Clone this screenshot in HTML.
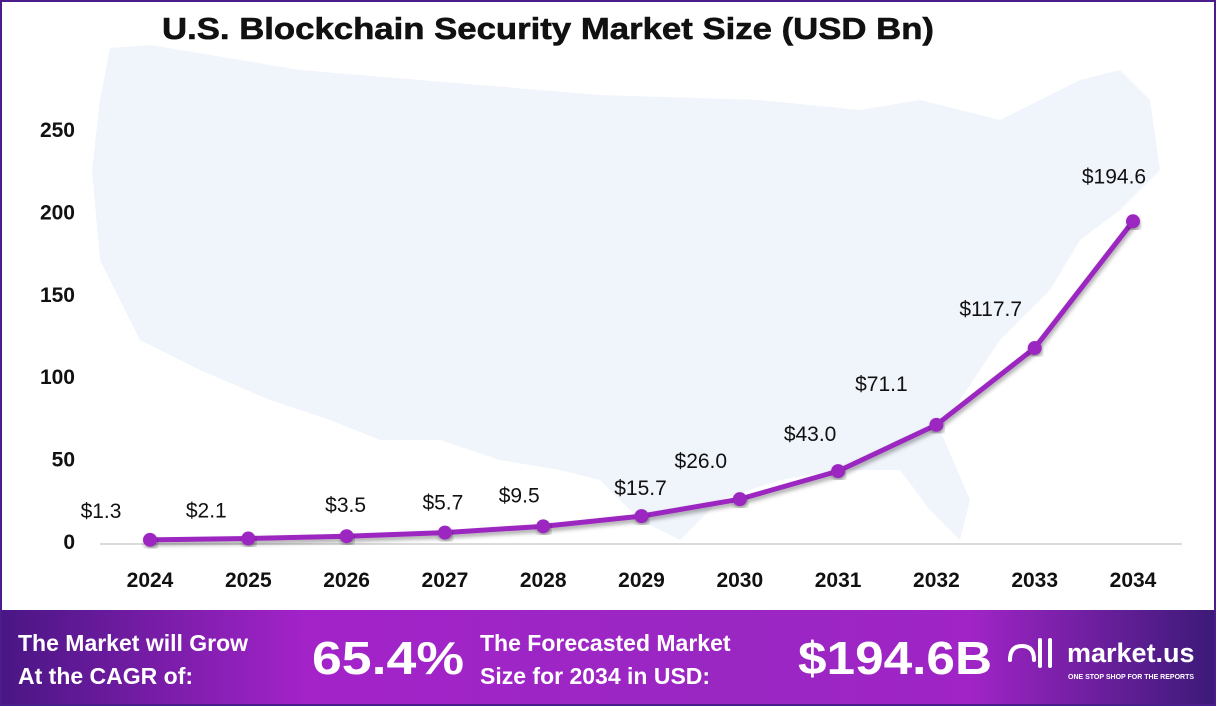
<!DOCTYPE html>
<html><head><meta charset="utf-8"><style>
html,body{margin:0;padding:0;background:#fff}
#wrap{position:relative;width:1216px;height:706px;overflow:hidden;font-family:"Liberation Sans",sans-serif}
svg text{font-family:"Liberation Sans",sans-serif}
</style></head><body>
<div id="wrap">
<svg id="chart" width="1216" height="706" viewBox="0 0 1216 706">
<defs>
<linearGradient id="bg" x1="0" x2="1" y1="0" y2="0">
<stop offset="0" stop-color="#4a1684"/><stop offset="0.25" stop-color="#a323c9"/><stop offset="0.6" stop-color="#9a27c2"/><stop offset="0.8" stop-color="#a024c6"/><stop offset="1" stop-color="#3c1a78"/>
</linearGradient>
<filter id="sh"><feDropShadow dx="1" dy="3" stdDeviation="2" flood-opacity="0.35"/></filter>
</defs>
<rect x="1" y="1" width="1214" height="704" fill="#fff" stroke="#4b1d8a" stroke-width="2"/>
<path d="M110 48 L150 45 L300 70 L600 95 L760 100 L860 110 L920 100 L1000 120 L1080 80 L1120 70 L1150 100 L1160 170 L1120 210 L1080 240 L1050 290 L1000 340 L960 400 L940 430 L970 500 L960 540 L930 510 L900 470 L840 470 L780 480 L720 500 L680 540 L640 520 L600 480 L560 470 L500 460 L440 440 L380 440 L330 420 L270 400 L200 370 L140 340 L100 260 L92 170 L100 100 Z" fill="#f0f4fb"/>
<text x="162" y="39" font-size="31" font-weight="bold" fill="#111" textLength="772" lengthAdjust="spacingAndGlyphs" stroke="#111" stroke-width="0.6">U.S. Blockchain Security Market  Size (USD Bn)</text>
<line x1="100" y1="544" x2="1182" y2="544" stroke="#cfcfcf" stroke-width="1.5"/>
<g id="yaxis"></g><g id="xaxis"></g><g id="series"></g>
<rect x="2" y="610" width="1212" height="94" fill="url(#bg)"/>
<g font-weight="bold" fill="#fff">
<text x="18" y="651" font-size="23">The Market will Grow</text>
<text x="18" y="684" font-size="23">At the CAGR of:</text>
<text x="312" y="674" font-size="46" textLength="152" lengthAdjust="spacingAndGlyphs">65.4%</text>
<text x="480" y="651" font-size="23">The Forecasted Market</text>
<text x="480" y="684" font-size="23">Size for 2034 in USD:</text>
<text x="798" y="674" font-size="46" textLength="194" lengthAdjust="spacingAndGlyphs">$194.6B</text>
<text x="1067" y="662" font-size="27">market.us</text>
<text x="1068" y="679" font-size="7">ONE STOP SHOP FOR THE REPORTS</text>
</g>
<path d="M1010 660 q0 -14 12 -14 q12 0 12 14 M1040 640 v26 M1050 640 v26" fill="none" stroke="#fff" stroke-width="4" stroke-linecap="round"/>
</svg>
</div>
<script>
const years=["2024","2025","2026","2027","2028","2029","2030","2031","2032","2033","2034"];
const values=[1.3,2.1,3.5,5.7,9.5,15.7,26.0,43.0,71.1,117.7,194.6];
const valueLabels=["$1.3","$2.1","$3.5","$5.7","$9.5","$15.7","$26.0","$43.0","$71.1","$117.7","$194.6"];
const yTicks=[0,50,100,150,200,250];
const labelDx=[-49,-42,-1,-2,-24,-1,-39,-28,-55,-44,-19];
const labelDy=[-29,-28,-31,-30,-31,-28,-38,-37,-41,-39,-45];
const NS="http://www.w3.org/2000/svg";
function xScale(i){return 150+i*(1133-150)/(years.length-1);}
function yScale(v){return 542-v*(542-130)/250;}
const ya=document.getElementById('yaxis'),xa=document.getElementById('xaxis'),sg=document.getElementById('series');
yTicks.forEach(t=>{
 const el=document.createElementNS(NS,'text');
 el.setAttribute('x',75);el.setAttribute('y',yScale(t)+7);el.setAttribute('text-anchor','end');
 el.setAttribute('font-size','21');el.setAttribute('font-weight','bold');el.setAttribute('fill','#111');
 el.textContent=t;
 
 
 ya.appendChild(el);
});
years.forEach((y,i)=>{
 const el=document.createElementNS(NS,'text');
 el.setAttribute('x',xScale(i));el.setAttribute('y',587);el.setAttribute('text-anchor','middle');
 el.setAttribute('font-size','21');el.setAttribute('font-weight','bold');el.setAttribute('fill','#111');
 el.textContent=y;
 
 
 xa.appendChild(el);
});
const line=document.createElementNS(NS,'polyline');
line.setAttribute('points',values.map((v,i)=>xScale(i)+','+yScale(v)).join(' '));
line.setAttribute('fill','none');line.setAttribute('stroke','#9b27c0');line.setAttribute('stroke-width','5');
line.setAttribute('stroke-linejoin','round');line.setAttribute('filter','url(#sh)');


sg.appendChild(line);
values.forEach((v,i)=>{
 const c=document.createElementNS(NS,'circle');
 c.setAttribute('cx',xScale(i));c.setAttribute('cy',yScale(v));c.setAttribute('r','7');c.setAttribute('fill','#9b27c0');
 c.setAttribute('filter','url(#sh)');
 
 
 sg.appendChild(c);
 const t=document.createElementNS(NS,'text');
 t.setAttribute('x',xScale(i)+labelDx[i]);t.setAttribute('y',yScale(v)+labelDy[i]+7);
 t.setAttribute('text-anchor','middle');t.setAttribute('font-size','21');t.setAttribute('fill','#111');
 t.textContent=valueLabels[i];
 
 
 sg.appendChild(t);
});
</script>
</body></html>
